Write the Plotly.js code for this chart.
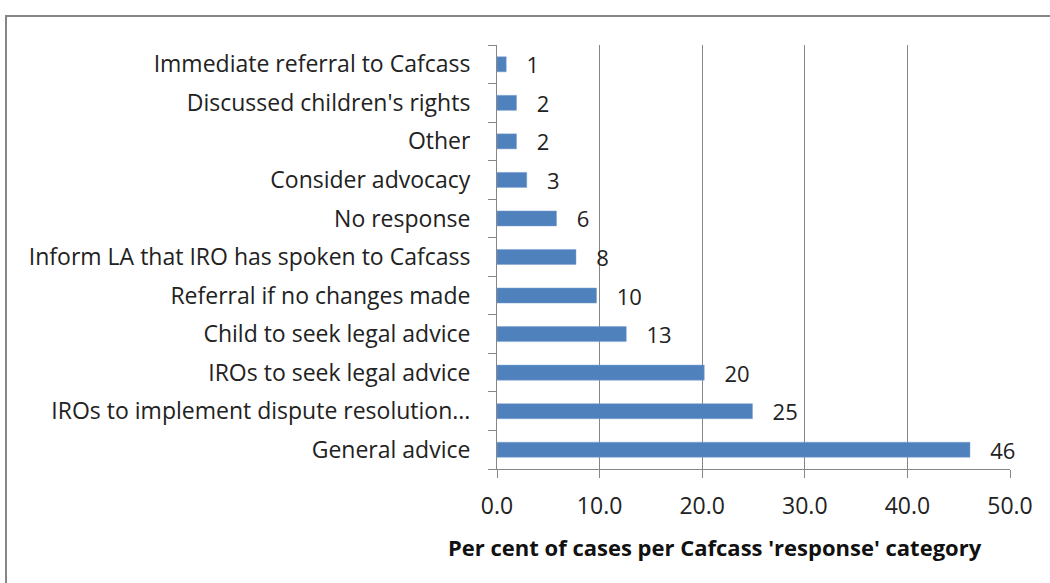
<!DOCTYPE html>
<html>
<head>
<meta charset="utf-8">
<script src="https://cdn.plot.ly/plotly-3.0.1.min.js"></script>
<style>
html,body{margin:0;padding:0;background:#fff;}
#wrap{position:relative;width:1050px;height:583px;overflow:hidden;}
#frame{position:absolute;left:5px;top:15px;width:1100px;height:700px;border-left:2px solid #868686;border-top:2px solid #868686;box-sizing:border-box;}
#chart{position:absolute;left:0;top:0;width:1050px;height:583px;}
</style>
</head>
<body>
<div id="wrap"><div id="frame"></div><div id="chart"></div></div>
<script>
const categories = [
  "General advice",
  "IROs to implement dispute resolution...",
  "IROs to seek legal advice",
  "Child to seek legal advice",
  "Referral if no changes made",
  "Inform LA that IRO has spoken to Cafcass",
  "No response",
  "Consider advocacy",
  "Other",
  "Discussed children's rights",
  "Immediate referral to Cafcass"
];
const values = [46.1, 24.9, 20.2, 12.6, 9.7, 7.7, 5.8, 2.9, 1.9, 1.9, 0.9];
const labels = ["46", "25", "20", "13", "10", "8", "6", "3", "2", "2", "1"];
const xTicks = [0, 10, 20, 30, 40, 50];
const xTickText = ["0.0", "10.0", "20.0", "30.0", "40.0", "50.0"];
const xTitle = "Per cent of cases per Cafcass 'response' category";

const font = "'Open Sans', Lato, sans-serif";
const trace = {
  type: "bar",
  orientation: "h",
  y: categories,
  x: values,
  text: labels.map(s => "   " + s),
  textposition: "outside",
  constraintext: "none",
  cliponaxis: false,
  textfont: {family: font, size: 22, color: "#222"},
  marker: {color: "#4F81BD", line: {color: "#7DA0CF", width: 0.5}},
  hoverinfo: "skip"
};
const layout = {
  width: 1050, height: 583,
  paper_bgcolor: "rgba(0,0,0,0)", plot_bgcolor: "rgba(0,0,0,0)",
  margin: {l: 497, r: 40, t: 45, b: 114},
  bargap: 0.61,
  showlegend: false,
  font: {family: font, color: "#222"},
  xaxis: {
    range: [0, 50], tickvals: xTicks, ticktext: xTickText,
    showgrid: true, gridcolor: "#868686", gridwidth: 1,
    showline: true, linecolor: "#868686", linewidth: 1,
    ticks: "outside", ticklen: 8, tickcolor: "#868686",
    tickfont: {family: font, size: 23, color: "#222"},
    ticklabelstandoff: 8,
    zeroline: false
  },
  yaxis: {
    type: "category", categoryorder: "array", categoryarray: categories,
    showline: true, linecolor: "#868686", linewidth: 1,
    ticks: "outside", ticklen: 8, tickcolor: "#868686", tickson: "boundaries",
    tickfont: {family: font, size: 23, color: "#222"},
    ticklabelstandoff: 21,
    showgrid: false, zeroline: false
  },
  annotations: [{
    text: "<b>" + xTitle + "</b>",
    xref: "paper", yref: "paper", x: 0.425, y: -0.184,
    xanchor: "center", yanchor: "middle", showarrow: false,
    font: {family: font, size: 22, color: "#111"}
  }]
};
Plotly.newPlot("chart", [trace], layout, {displayModeBar: false, staticPlot: true});
</script>
</body>
</html>
